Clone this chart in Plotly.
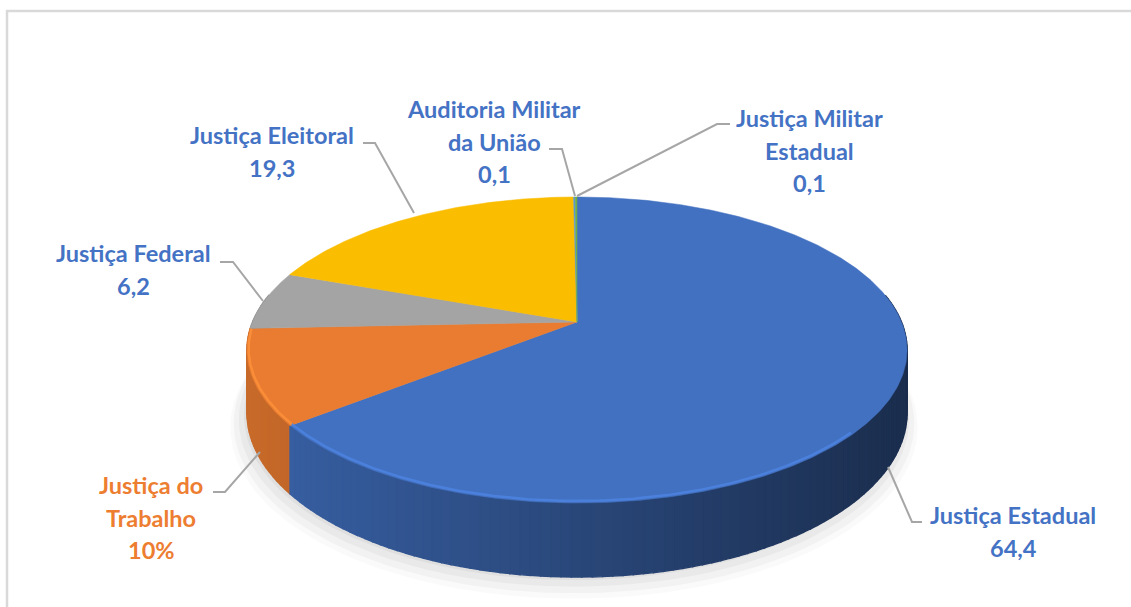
import math
import plotly.graph_objects as go

# ---------------- data ----------------
categories = ["Justiça Estadual", "Justiça do Trabalho", "Justiça Federal",
              "Justiça Eleitoral", "Auditoria Militar da União", "Justiça Militar Estadual"]
values = [64.4, 10, 6.2, 19.3, 0.1, 0.1]
value_labels = ["64,4", "10%", "6,2", "19,3", "0,1", "0,1"]
label_lines = [["Justiça Estadual"], ["Justiça do", "Trabalho"], ["Justiça Federal"],
               ["Justiça Eleitoral"], ["Auditoria Militar", "da União"], ["Justiça Militar", "Estadual"]]

# ---------------- style / geometry ----------------
W, H = 1131, 607
slice_colors = [(66, 113, 193), (233, 124, 49), (164, 164, 164), (250, 189, 0), (91, 155, 213), (112, 173, 71)]
text_colors = ["#4472C4", "#ED7D31", "#4472C4", "#4472C4", "#4472C4", "#4472C4"]
CX, CY = 577, 322          # apex on screen
A, B, K, T = 324.5, 147.9, 0.183, 60.5   # perspective ellipse parameters / thickness


def proj(X, Z, drop=0.0, scale=1.0):
    X, Z = X * scale, Z * scale
    w = 1 + K * Z
    return CX + A * X / w, CY - B * Z / w + T * drop / w


def rgb(c, m=1.0):
    return "rgb(%d,%d,%d)" % tuple(max(0, min(255, round(v * m))) for v in c)


total = sum(values)
bounds = [0.0]
for v in values:
    bounds.append(bounds[-1] + v / total * 2 * math.pi)

fig = go.Figure()

# soft shadow under the pie
for i, (s, dy, op) in enumerate([(1.04, 12, 0.02), (1.03, 9, 0.03), (1.015, 6, 0.035), (1.0, 3, 0.04)]):
    xs, ys = [], []
    for k in range(181):
        a = 2 * math.pi * k / 180
        x, y = proj(math.sin(a), math.cos(a), 1.0, s)
        xs.append(x - 3)
        ys.append(y + dy)
    fig.add_trace(go.Scatter(x=xs, y=ys, fill="toself", mode="lines", line=dict(width=0),
                             fillcolor="rgba(0,0,0,%s)" % op, hoverinfo="skip", showlegend=False))

# side walls (segments sorted far -> near)
left_x, right_x = CX - A * 1.02, CX + A * 1.02
segs = []
for i in range(len(values)):
    a0, a1 = bounds[i], bounds[i + 1]
    n = max(1, int(math.ceil((a1 - a0) / math.radians(1.5))))
    for k in range(n):
        s0 = a0 + (a1 - a0) * k / n
        s1 = a0 + (a1 - a0) * (k + 1) / n
        zm = math.cos((s0 + s1) / 2)
        if zm > 0.2:
            continue
        segs.append((zm, i, s0, s1))
segs.sort(key=lambda s: -s[0])
for zm, i, s0, s1 in segs:
    p1 = proj(math.sin(s0), math.cos(s0))
    p2 = proj(math.sin(s1), math.cos(s1))
    p3 = proj(math.sin(s1), math.cos(s1), 1.0)
    p4 = proj(math.sin(s0), math.cos(s0), 1.0)
    t = ((p1[0] + p2[0]) / 2 - left_x) / (right_x - left_x)
    m = 0.86 - 0.46 * t
    col = rgb(slice_colors[i], m)
    fig.add_trace(go.Scatter(x=[p1[0], p2[0], p3[0], p4[0], p1[0]],
                             y=[p1[1], p2[1], p3[1], p4[1], p1[1]],
                             fill="toself", mode="lines", line=dict(width=1.4, color=col),
                             fillcolor=col, hoverinfo="skip", showlegend=False))

# top faces
for i in range(len(values)):
    a0, a1 = bounds[i], bounds[i + 1]
    n = max(2, int(math.ceil((a1 - a0) / math.radians(0.5))))
    xs, ys = [CX], [CY]
    for k in range(n + 1):
        a = a0 + (a1 - a0) * k / n
        x, y = proj(math.sin(a), math.cos(a))
        xs.append(x)
        ys.append(y)
    xs.append(CX)
    ys.append(CY)
    fig.add_trace(go.Scatter(x=xs, y=ys, fill="toself", mode="lines",
                             line=dict(width=0.5, color=rgb(slice_colors[i])),
                             fillcolor=rgb(slice_colors[i]), hoverinfo="skip",
                             name=categories[i], showlegend=False))

# bevel highlight on the front rim
for i in range(len(values)):
    a0, a1 = bounds[i], bounds[i + 1]
    n = max(2, int(math.ceil((a1 - a0) / math.radians(0.5))))
    xs, ys = [], []
    for k in range(n + 1):
        a = a0 + (a1 - a0) * k / n
        if math.cos(a) > -0.05 or math.sin(a) > 0.75:
            if xs and xs[-1] is not None:
                xs.append(None)
                ys.append(None)
            continue
        x, y = proj(math.sin(a) * 0.995, math.cos(a) * 0.995)
        xs.append(x)
        ys.append(y - 1)
    if any(v is not None for v in xs):
        fig.add_trace(go.Scatter(x=xs, y=ys, mode="lines",
                                 line=dict(width=2.5, color=rgb(slice_colors[i], 1.18)),
                                 opacity=0.8, hoverinfo="skip", showlegend=False))

# ---------------- labels ----------------
# (line centre positions for each label block)
label_pos = [(1013, 515), (151, 485), (133, 253), (272, 135), (494, 109), (809, 118)]
LINE_GAP = 32.5
font_family = "Lato"
FS = 23.5
for i in range(len(values)):
    x0, y0 = label_pos[i]
    lines = label_lines[i] + [value_labels[i]]
    for j, ln in enumerate(lines):
        fig.add_annotation(x=x0, y=y0 + j * LINE_GAP, text=ln, showarrow=False,
                           xanchor="center", yanchor="middle",
                           font=dict(family=font_family, size=FS, color=text_colors[i], weight="bold"))

# leader lines
leaders = [
    [(922, 522), (912, 522), (888, 467)],
    [(213, 492), (225, 492), (260, 452)],
    [(220, 262), (233, 262), (263, 301)],
    [(363, 143), (375, 143), (414, 213)],
    [(549, 149), (562, 149), (575, 196)],
    [(730, 124), (717, 124), (577, 196)],
]
for pts in leaders:
    path = "M %s,%s " % pts[0] + " ".join("L %s,%s" % p for p in pts[1:])
    fig.add_shape(type="path", path=path, xref="x", yref="y",
                  line=dict(color="#A6A6A6", width=2))

# chart border
fig.add_shape(type="rect", xref="x", yref="y", x0=7, y0=11, x1=W + 20, y1=H + 20,
              line=dict(color="#D9D9D9", width=2.5), layer="below")

fig.update_layout(
    width=W, height=H, margin=dict(l=0, r=0, t=0, b=0),
    paper_bgcolor="white", plot_bgcolor="white",
    xaxis=dict(range=[0, W], visible=False, fixedrange=True),
    yaxis=dict(range=[H, 0], visible=False, fixedrange=True),
    showlegend=False,
)

fig.write_html("out.html")
